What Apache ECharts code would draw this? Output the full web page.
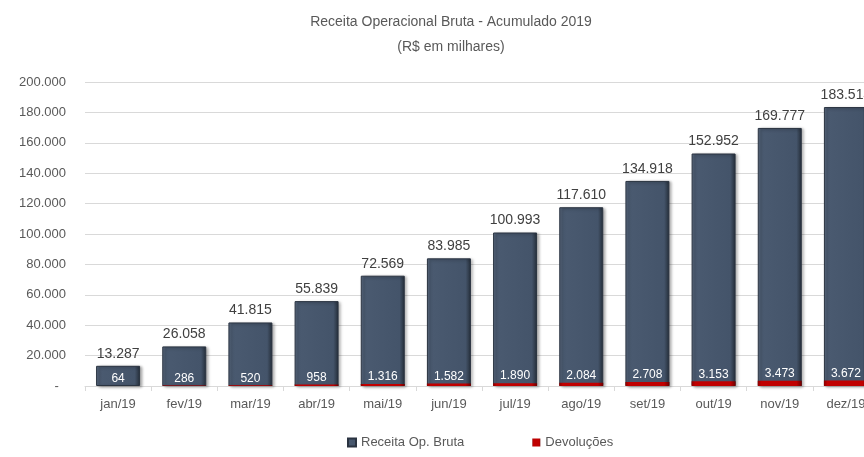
<!DOCTYPE html>
<html>
<head>
	<meta charset="UTF-8">
	<title>Receita Operacional Bruta - Acumulado 2019</title>
	<script src="https://cdn.jsdelivr.net/npm/echarts@6/dist/echarts.min.js"></script>
	<style>
		html, body { margin: 0; padding: 0; background: #fff; overflow: hidden; }
		/* o gráfico original é cortado à direita: a área é mais larga que a janela */
		#main { width: 879px; height: 457px; }
	</style>
</head>
<body>
<div id="main"></div>
<script type="text/javascript">
    // dados
    var meses = ['jan/19', 'fev/19', 'mar/19', 'abr/19', 'mai/19', 'jun/19',
        'jul/19', 'ago/19', 'set/19', 'out/19', 'nov/19', 'dez/19'];
    var receita = [13287, 26058, 41815, 55839, 72569, 83985, 100993, 117610, 134918, 152952, 169777, 183514];
    var devolucoes = [64, 286, 520, 958, 1316, 1582, 1890, 2084, 2708, 3153, 3473, 3672];

    var fonte = "'Liberation Sans', Arial, sans-serif";

    // separador de milhar com ponto
    function fmt(v) {
        return String(Math.round(v)).replace(/\B(?=(\d{3})+(?!\d))/g, '.');
    }

    function grad(c0, c1, c2, c3) {
        return new echarts.graphic.LinearGradient(0, 0, 1, 0, [
            {offset: 0, color: c0},
            {offset: 0.08, color: c1},
            {offset: 0.88, color: c2},
            {offset: 1, color: c3}
        ]);
    }

    var myChart = echarts.init(document.getElementById('main'));

    myChart.setOption({
        animation: false,
        title: {
            text: 'Receita Operacional Bruta - Acumulado 2019\n(R$ em milhares)',
            left: 446,
            top: 5,
            textAlign: 'center',
            textStyle: {
                fontFamily: fonte,
                fontSize: 14,
                fontWeight: 'normal',
                color: '#595959',
                lineHeight: 25
            }
        },
        legend: {
            top: 431,
            left: 342,
            itemWidth: 8,
            itemHeight: 8,
            itemGap: 68,
            icon: 'rect',
            textStyle: {fontFamily: fonte, fontSize: 13, color: '#595959'},
            data: ['Receita Op. Bruta', 'Devoluções']
        },
        grid: {
            left: 85,
            right: 0,
            top: 82,
            bottom: 71
        },
        xAxis: {
            type: 'category',
            data: meses,
            axisLine: {lineStyle: {color: '#d9d9d9'}},
            axisTick: {show: true, length: 5, lineStyle: {color: '#d9d9d9'}},
            axisLabel: {fontFamily: fonte, fontSize: 13, color: '#595959', margin: 12}
        },
        yAxis: {
            type: 'value',
            min: 0,
            max: 200000,
            interval: 20000,
            axisLine: {show: false},
            axisTick: {show: false},
            splitLine: {lineStyle: {color: '#d9d9d9'}},
            axisLabel: {
                fontFamily: fonte,
                fontSize: 13,
                color: '#595959',
                margin: 19,
                formatter: function (v) {
                    return v === 0 ? '-  ' : fmt(v);
                }
            }
        },
        series: [
            {
                name: 'Receita Op. Bruta',
                type: 'bar',
                data: receita,
                barWidth: 44,
                barGap: '-100%',
                itemStyle: {
                    color: grad('#5d6d83', '#4a5a70', '#44546A', '#242d38'),
                    borderColor: '#2a3340',
                    borderWidth: 1,
                    shadowBlur: 3,
                    shadowOffsetX: 2,
                    shadowOffsetY: 1,
                    shadowColor: 'rgba(0,0,0,0.35)'
                },
                label: {
                    show: true,
                    position: 'top',
                    distance: 5,
                    fontFamily: fonte,
                    fontSize: 14,
                    color: '#404040',
                    formatter: function (p) { return fmt(p.value); }
                }
            },
            {
                name: 'Devoluções',
                type: 'bar',
                data: devolucoes,
                barWidth: 44,
                itemStyle: {
                    color: grad('#8a0000', '#c00000', '#c00000', '#6a0000')
                },
                label: {
                    show: true,
                    position: 'top',
                    distance: 1,
                    fontFamily: fonte,
                    fontSize: 12,
                    color: '#ffffff',
                    formatter: function (p) { return fmt(p.value); }
                }
            }
        ]
    });
</script>
</body>
</html>
